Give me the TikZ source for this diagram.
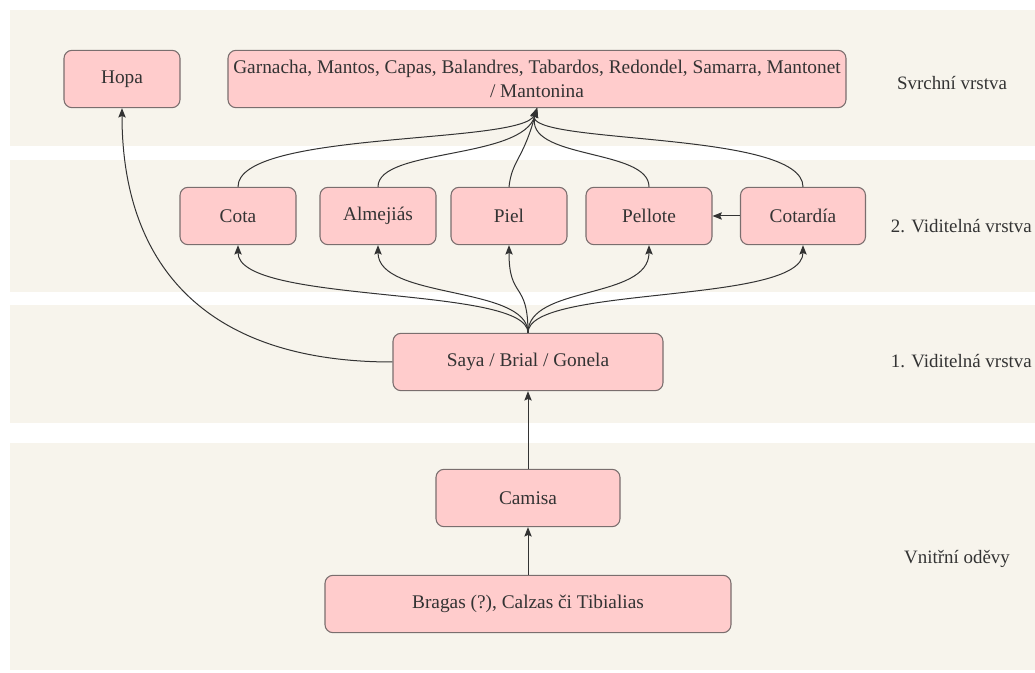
\documentclass[tikz,border=0pt]{standalone}
\usepackage{fontspec}
\setmainfont{Liberation Serif}
\newfontfamily\garmentfont{Liberation Serif}
\usetikzlibrary{arrows.meta}
\definecolor{band}{HTML}{F7F4EC}
\definecolor{boxfill}{HTML}{FFCCCC}
\definecolor{boxline}{HTML}{7A6E6E}
\definecolor{ink}{HTML}{333333}
\tikzset{
  layer/.style={fill=band, draw=none},
  garment/.style={draw=boxline, fill=boxfill, rounded corners=6pt, line width=0.8pt,
    minimum height=43pt, inner sep=0pt, text=ink, font=\garmentfont\fontsize{14.5}{17.5}\selectfont},
  layername/.style={text=ink, font=\garmentfont\fontsize{14.2}{17}\selectfont, inner sep=0pt},
  link/.style={draw=ink, line width=0.75pt, -{Stealth[length=7pt,width=5.5pt,inset=1.2pt]}},
}
\begin{document}
\begin{tikzpicture}[x=0.75pt, y=-0.75pt]
\useasboundingbox (0,0) rectangle (1035,673);
\fill[white] (0,0) rectangle (1035,673);

% layer bands
\fill[layer] (10,10) rectangle (1035,146);
\fill[layer] (10,160) rectangle (1035,292);
\fill[layer] (10,305) rectangle (1035,423);
\fill[layer] (10,443) rectangle (1035,670);

% layer names
\node[layername] (lOuter) at (952,83) {Svrchní vrstva};
\node[layername, anchor=east] (lVis2) at (1032,226) {2. Viditelná vrstva};
\node[layername, anchor=east] (lVis1) at (1032,361) {1. Viditelná vrstva};
\node[layername] (lInner) at (957,559) {Vnitřní oděvy};

% garments
\node[garment, minimum width=87pt] (hopa) at (122,79) {Hopa};
\node[garment, minimum width=463.5pt, align=center] (outer) at (537,79)
  {Garnacha, Mantos, Capas, Balandres, Tabardos, Redondel, Samarra, Mantonet\\/ Mantonina};

\node[garment, minimum width=87pt] (cota) at (238,216) {Cota};
\node[garment, minimum width=87pt] (alme) at (378,216) {Almejiás};
\node[garment, minimum width=87pt] (piel) at (509,216) {Piel};
\node[garment, minimum width=94.5pt] (pell) at (649,216) {Pellote};
\node[garment, minimum width=93.75pt] (cotar) at (803,216) {Cotardía};

\node[garment, minimum width=202.5pt] (saya) at (528,362) {Saya / Brial / Gonela};
\node[garment, minimum width=138pt] (camisa) at (528,498) {Camisa};
\node[garment, minimum width=304.5pt] (bragas) at (528,604) {Bragas (?), Calzas či Tibialias};

\coordinate (outIn) at (outer.south);
\coordinate (sayaOut) at (saya.north);

% second visible layer up to the outer layer
\draw[link] (cota.north) .. controls (238,130) and (523,145) .. (outIn);
\draw[link] (alme.north) .. controls (378,148) and (523,160) .. (outIn);
\draw[link] (piel.north) .. controls (512,160) and (523,160) .. (outIn);
\draw[link] (pell.north) .. controls (649,148) and (523,160) .. (outIn);
\draw[link] (cotar.north) .. controls (803,130) and (523,145) .. (outIn);

% first visible layer up to the second
\draw[link] (sayaOut) .. controls (528,285) and (238,305) .. (cota.south);
\draw[link] (sayaOut) .. controls (528,285) and (378,300) .. (alme.south);
\draw[link] (sayaOut) .. controls (528,280) and (509,300) .. (piel.south);
\draw[link] (sayaOut) .. controls (528,285) and (649,300) .. (pell.south);
\draw[link] (sayaOut) .. controls (528,285) and (803,305) .. (cotar.south);

\draw[link] (cotar.west) -- (pell.east);
\draw[link] (saya.west) .. controls (200,362) and (122,260) .. (hopa.south);

% inner garments
\draw[link] (camisa.north) -- (saya.south);
\draw[link] (bragas.north) -- (camisa.south);
\end{tikzpicture}
\end{document}
